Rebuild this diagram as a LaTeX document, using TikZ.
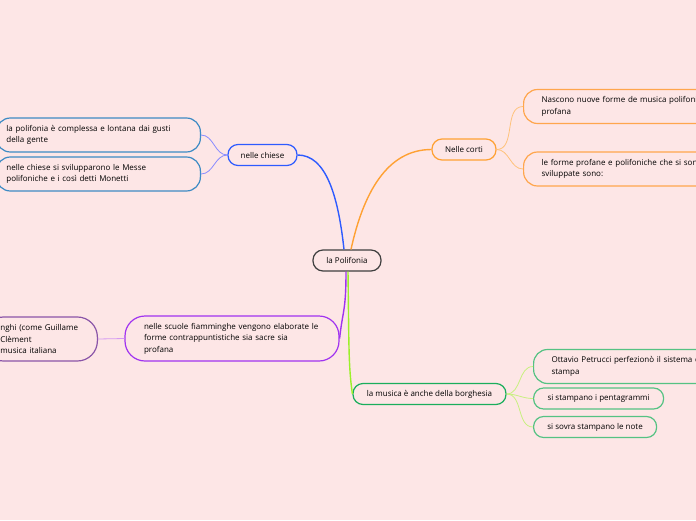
\documentclass[tikz,border=0pt]{standalone}
\usepackage{fontspec}
\setmainfont{Open Sans}
\usetikzlibrary{positioning}

\definecolor{bgpink}{HTML}{FDE6E6}
\definecolor{rootgrey}{HTML}{404040}
\definecolor{chblue}{HTML}{2E5BFF}
\definecolor{lfblue}{HTML}{3D8BC4}
\definecolor{twblue}{HTML}{8A8CFF}
\definecolor{ctorange}{HTML}{FFA133}
\definecolor{lforange}{HTML}{FFA64D}
\definecolor{tworange}{HTML}{FFC27A}
\definecolor{fmpurple}{HTML}{A033F0}
\definecolor{lfpurple}{HTML}{8A55A8}
\definecolor{twpurple}{HTML}{D49AF2}
\definecolor{bggreen}{HTML}{1AAE5C}
\definecolor{lfgreen}{HTML}{55C283}
\definecolor{brlime}{HTML}{9CF02A}
\definecolor{twgreen}{HTML}{C8F080}

\tikzset{
  topic/.style={draw, rounded corners=10pt, line width=1.2pt, fill=bgpink,
    font=\fontsize{8}{11.5}\selectfont, minimum height=21pt, inner xsep=8pt},
  leaf/.style={topic, rounded corners=14pt, align=left, minimum height=34pt, inner xsep=10pt},
  branch/.style={line width=1.4pt},
  twig/.style={line width=0.8pt},
}

\begin{document}
\begin{tikzpicture}[x=1pt, y=-1pt]
  % Page and clipping
  \useasboundingbox (0,0) rectangle (696,520);
  \fill[bgpink] (0,0) rectangle (696,520);
  \clip (0,0) rectangle (696,520);

  % Main topics
  \node[topic, draw=rootgrey, minimum width=68pt] (root) at (347,260.5) {la Polifonia};
  \node[topic, draw=chblue, minimum width=69pt] (chiese) at (262.5,155) {nelle chiese};
  \node[topic, draw=ctorange, minimum width=64pt] (corti) at (464,149.5) {Nelle corti};
  \node[topic, draw=fmpurple, rounded corners=20pt, align=left, text width=176pt,
    inner xsep=19pt, minimum height=45pt] (scuole) at (232,338.5)
    {nelle scuole fiamminghe vengono elaborate le\\forme contrappuntistiche sia sacre sia\\profana};
  \node[topic, draw=bggreen, minimum width=153pt] (borghesia) at (429.5,394) {la musica è anche della borghesia};

  % Leaves
  \node[leaf, draw=lfblue, anchor=east, text width=184pt] (gusti) at (201,135)
    {la polifonia è complessa e lontana dai gusti\\della gente};
  \node[leaf, draw=lfblue, anchor=east, text width=184pt] (messe) at (201,174)
    {nelle chiese si svilupparono le Messe\\polifoniche e i così detti Monetti};
  \node[leaf, draw=lforange, anchor=west, text width=200pt, inner xsep=18pt] (nuove) at (523,106.5)
    {Nascono nuove forme de musica polifonica e\\profana};
  \node[leaf, draw=lforange, anchor=west, text width=200pt, inner xsep=18pt] (profane) at (523,169)
    {le forme profane e polifoniche che si sono\\sviluppate sono:};
  \node[leaf, draw=lfpurple, anchor=east, rounded corners=20pt, text width=80pt,
    inner xsep=17pt, minimum height=44pt] (fiamminghi) at (98,339)
    {nghi (come Guillame\\Clèment\\musica italiana};
  \node[leaf, draw=lfgreen, anchor=west, text width=200pt, inner xsep=18pt] (petrucci) at (533,366.5)
    {Ottavio Petrucci perfezionò il sistema di\\stampa};
  \node[topic, draw=lfgreen, anchor=west, minimum width=130pt] (penta) at (533,398.5) {si stampano i pentagrammi};
  \node[topic, draw=lfgreen, anchor=west, minimum width=123pt] (note) at (533,427) {si sovra stampano le note};

  % Branches from the root
  \draw[branch, chblue] ([xshift=-3pt]root.north) .. controls +(-6,-55) and +(28,0) .. (chiese.east);
  \draw[branch, ctorange] ([xshift=4pt]root.north) .. controls +(12,-55) and +(-45,0) .. (corti.west);
  \draw[branch, fmpurple] ([xshift=-1pt]root.south) .. controls +(0,40) and +(3,-28) .. (scuole.east);
  \draw[branch, brlime] ([xshift=1pt]root.south) .. controls +(1,75) and +(-4,-28) .. (borghesia.west);

  % Twigs to the leaves
  \draw[twig, twblue] (chiese.west) to[out=180, in=0] (gusti.east);
  \draw[twig, twblue] (chiese.west) to[out=180, in=0] (messe.east);
  \draw[twig, tworange] (corti.east) to[out=0, in=180] (nuove.west);
  \draw[twig, tworange] (corti.east) to[out=0, in=180] (profane.west);
  \draw[twig, twpurple] (scuole.west) -- (fiamminghi.east);
  \draw[twig, twgreen] (borghesia.east) to[out=0, in=180] (petrucci.west);
  \draw[twig, twgreen] (borghesia.east) to[out=0, in=180] (penta.west);
  \draw[twig, twgreen] (borghesia.east) to[out=0, in=180] (note.west);
\end{tikzpicture}
\end{document}
